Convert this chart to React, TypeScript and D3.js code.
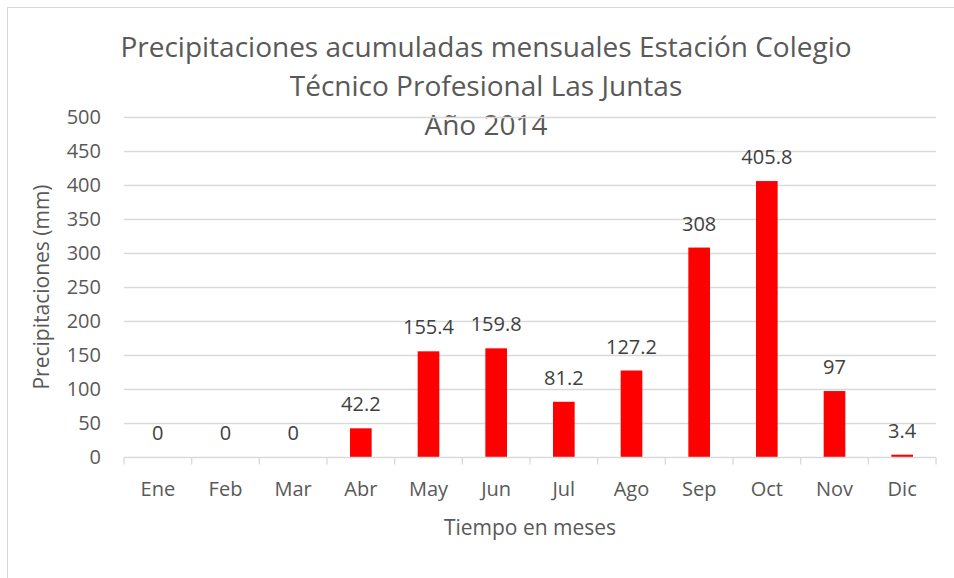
import React, { useEffect, useRef } from 'react';
import * as d3 from 'd3';

const months = ['Ene', 'Feb', 'Mar', 'Abr', 'May', 'Jun', 'Jul', 'Ago', 'Sep', 'Oct', 'Nov', 'Dic'];
const rainfall = [0, 0, 0, 42.2, 155.4, 159.8, 81.2, 127.2, 308, 405.8, 97, 3.4];
const rainLabels = ['0', '0', '0', '42.2', '155.4', '159.8', '81.2', '127.2', '308', '405.8', '97', '3.4'];
const yTicks = [0, 50, 100, 150, 200, 250, 300, 350, 400, 450, 500];
const titleLines = [
  'Precipitaciones acumuladas mensuales Estación Colegio',
  'Técnico Profesional Las Juntas',
  'Año 2014',
];

const width = 954;
const height = 578;
const margin = { top: 117, right: 18, bottom: 121, left: 124 };
const innerW = width - margin.left - margin.right;
const innerH = height - margin.top - margin.bottom;
const textColor = '#595959';
const gridColor = '#d9d9d9';
const font = '"Open Sans", sans-serif';

const App = () => {
  const ref = useRef<SVGSVGElement>(null);

  useEffect(() => {
    const svg = d3.select(ref.current);
    svg.selectAll('*').remove();

    // chart frame (runs off the right/bottom edge like the original)
    svg.append('rect')
      .attr('x', 7.5).attr('y', 7.5)
      .attr('width', 960).attr('height', 600)
      .attr('fill', '#fff')
      .attr('stroke', gridColor);

    const title = svg.append('text')
      .attr('text-anchor', 'middle')
      .attr('font-family', font)
      .attr('font-size', 28)
      .attr('fill', textColor);
    titleLines.forEach((line, i) => {
      title.append('tspan').attr('x', 486).attr('y', 57 + i * 39).text(line);
    });

    const g = svg.append('g').attr('transform', `translate(${margin.left},${margin.top})`);

    const x = d3.scaleBand().domain(months).range([0, innerW]).paddingInner(0.68).paddingOuter(0.34);
    const y = d3.scaleLinear().domain([0, 500]).range([innerH, 0]);

    g.selectAll('.grid')
      .data(yTicks.filter(t => t > 0))
      .enter()
      .append('line')
      .attr('x1', 0).attr('x2', innerW)
      .attr('y1', d => Math.round(y(d)) + 0.5).attr('y2', d => Math.round(y(d)) + 0.5)
      .attr('stroke', gridColor)
      .attr('stroke-width', 1.3);

    g.selectAll('.bar')
      .data(rainfall)
      .enter()
      .append('rect')
      .attr('x', (d, i) => x(months[i]) as number)
      .attr('y', d => y(d))
      .attr('width', x.bandwidth())
      .attr('height', d => innerH - y(d))
      .attr('fill', '#ff0000');

    g.selectAll('.bar-label')
      .data(rainfall)
      .enter()
      .append('text')
      .attr('x', (d, i) => (x(months[i]) as number) + x.bandwidth() / 2)
      .attr('y', d => y(d) - 17)
      .attr('text-anchor', 'middle')
      .attr('font-family', font)
      .attr('font-size', 20)
      .attr('fill', '#404040')
      .text((d, i) => rainLabels[i]);

    // x axis with category separator ticks
    const step = innerW / months.length;
    const axis = g.append('g').attr('transform', `translate(0,${Math.round(innerH) + 0.5})`);
    axis.append('line').attr('x1', 0).attr('x2', innerW).attr('stroke', gridColor).attr('stroke-width', 1.3);
    axis.selectAll('.sep')
      .data(d3.range(months.length + 1))
      .enter()
      .append('line')
      .attr('x1', d => d * step).attr('x2', d => d * step)
      .attr('y1', 0).attr('y2', 7)
      .attr('stroke', gridColor)
      .attr('stroke-width', 1.3);
    axis.selectAll('.mlabel')
      .data(months)
      .enter()
      .append('text')
      .attr('x', d => (x(d) as number) + x.bandwidth() / 2)
      .attr('y', 38)
      .attr('text-anchor', 'middle')
      .attr('font-family', font)
      .attr('font-size', 20)
      .attr('fill', textColor)
      .text(d => d);

    g.selectAll('.ytick')
      .data(yTicks)
      .enter()
      .append('text')
      .attr('x', -23)
      .attr('y', d => y(d) + 7)
      .attr('text-anchor', 'end')
      .attr('font-family', font)
      .attr('font-size', 20)
      .attr('fill', textColor)
      .text(d => d);

    svg.append('text')
      .attr('x', margin.left + innerW / 2)
      .attr('y', 535)
      .attr('text-anchor', 'middle')
      .attr('font-family', font)
      .attr('font-size', 21)
      .attr('fill', textColor)
      .text('Tiempo en meses');

    svg.append('text')
      .attr('transform', `translate(49,${margin.top + innerH / 2}) rotate(-90)`)
      .attr('text-anchor', 'middle')
      .attr('font-family', font)
      .attr('font-size', 21)
      .attr('fill', textColor)
      .text('Precipitaciones (mm)');
  }, []);

  return (
    <svg ref={ref} width={width} height={height}
      style={{ position: 'absolute', left: 0, top: 0, background: '#fff' }} />
  );
};

export default App;
